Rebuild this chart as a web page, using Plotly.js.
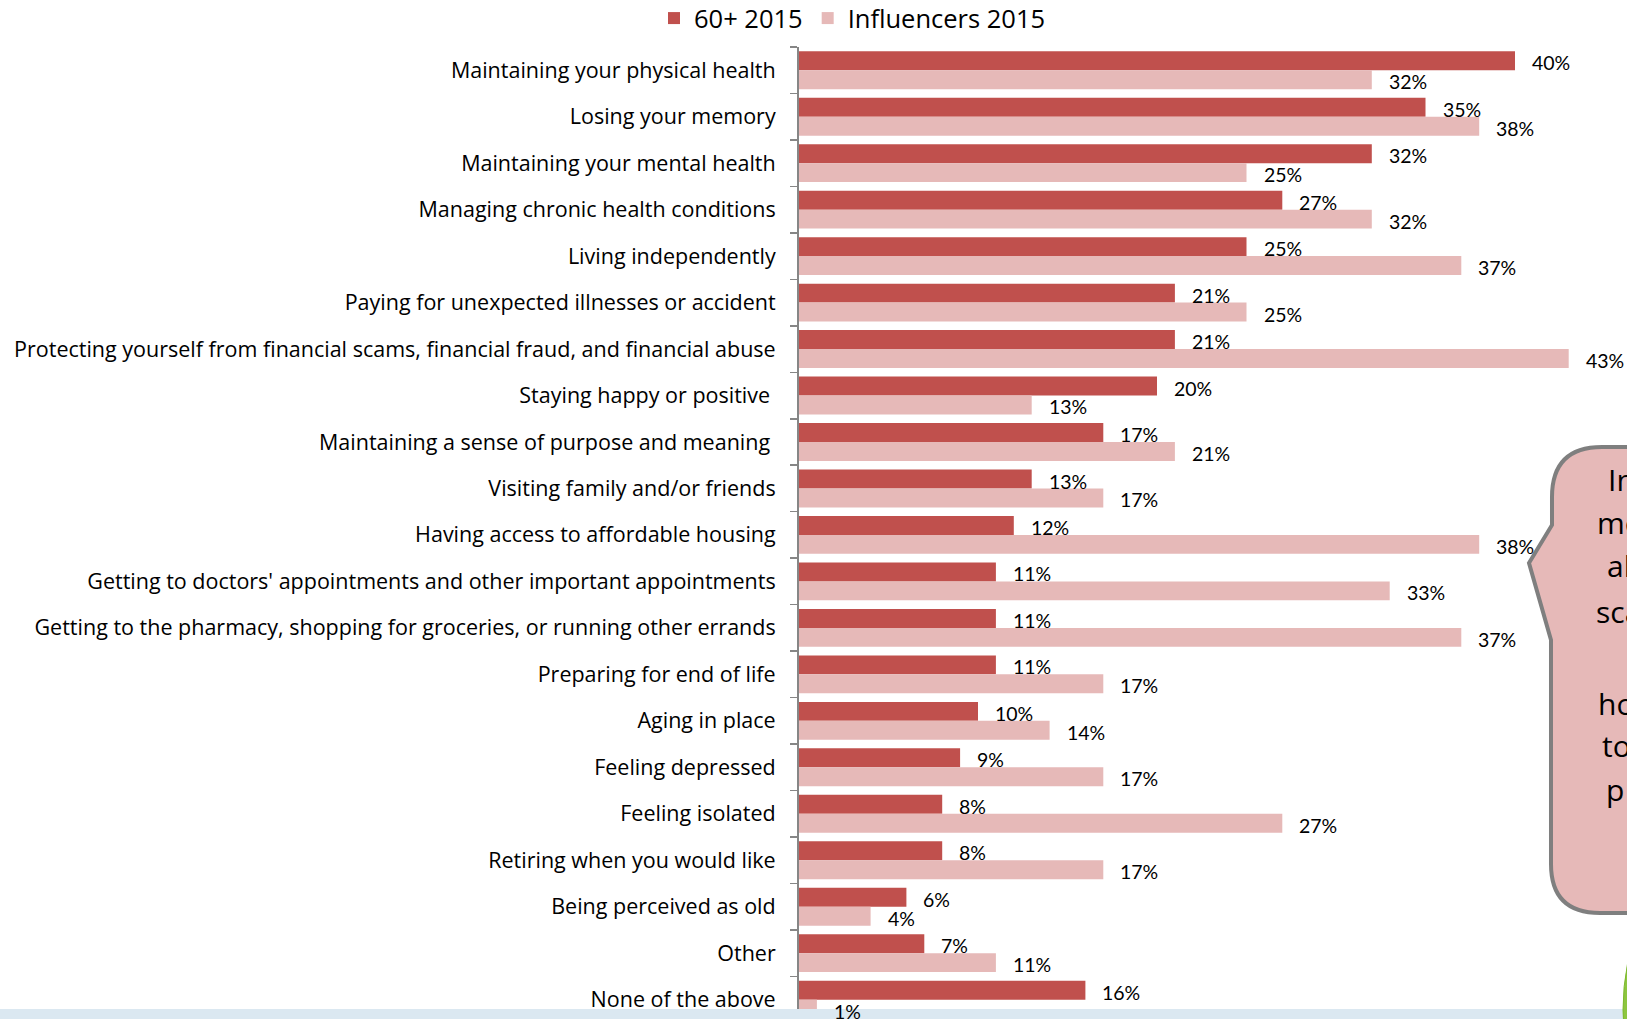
<!DOCTYPE html>
<html>
<head>
<meta charset="utf-8">
<script src="https://cdn.plot.ly/plotly-3.0.1.min.js"></script>
<style>
  html, body { margin: 0; padding: 0; background: #ffffff; }
  #chart { width: 1627px; height: 1019px; }
</style>
</head>
<body>
<div id="chart"></div>
<script>
// ---- Data ----
const categories = [
  "Maintaining your physical health",
  "Losing your memory",
  "Maintaining your mental health",
  "Managing chronic health conditions",
  "Living independently",
  "Paying for unexpected illnesses or accident",
  "Protecting yourself from financial scams, financial fraud, and financial abuse",
  "Staying happy or positive\u00a0",
  "Maintaining a sense of purpose and meaning\u00a0",
  "Visiting family and/or friends",
  "Having access to affordable housing",
  "Getting to doctors' appointments and other important appointments",
  "Getting to the pharmacy, shopping for groceries, or running other errands",
  "Preparing for end of life",
  "Aging in place",
  "Feeling depressed",
  "Feeling isolated",
  "Retiring when you would like",
  "Being perceived as old",
  "Other",
  "None of the above"
];
const seniors2015 = [40, 35, 32, 27, 25, 21, 21, 20, 17, 13, 12, 11, 11, 11, 10, 9, 8, 8, 6, 7, 16];
const influencers2015 = [32, 38, 25, 32, 37, 25, 43, 13, 21, 17, 38, 33, 37, 17, 14, 17, 27, 17, 4, 11, 1];
const seriesNames = ["60+ 2015", "Influencers 2015"];
// visible (cropped) fragments of the callout text
const calloutFragments = ["In", "mo", "al", "sca", "ho", "to", "p"];

// ---- Layout constants ----
const FIG_W = 1627, FIG_H = 1019;
const M = { l: 799, r: 0, t: 47, b: 0 };
const PW = FIG_W - M.l - M.r, PH = FIG_H - M.t - M.b;
const PX_PER_UNIT = 17.9;
const CAT_PITCH = 46.47;
const px2x = px => (px - M.l) / PW;
const py2y = py => (FIG_H - M.b - py) / PH;

const RED = "#C0504D", PINK = "#E6B9B8";
const BARGAP = 0.185;
const half = (1 - BARGAP) / 4; // center offset of each bar in a group of two
const FONT = "'Open Sans', Lato, sans-serif";

const traces = [
  { type: "bar", orientation: "h", name: seriesNames[0], y: categories, x: seniors2015,
    marker: { color: RED, line: { width: 0 } }, hoverinfo: "x+y" },
  { type: "bar", orientation: "h", name: seriesNames[1], y: categories, x: influencers2015,
    marker: { color: PINK, line: { width: 0 } }, hoverinfo: "x+y" }
];

const annotations = [];
const labelFont = { family: "Lato, 'Open Sans', sans-serif", size: 19.5, color: "#000000" };
seniors2015.forEach((v, i) => annotations.push({
  xref: "x", yref: "y", x: v, y: i - half, text: v + "%", showarrow: false,
  xanchor: "left", yanchor: "middle", xshift: 15, yshift: -2, font: labelFont
}));
influencers2015.forEach((v, i) => annotations.push({
  xref: "x", yref: "y", x: v, y: i + half, text: v + "%", showarrow: false,
  xanchor: "left", yanchor: "middle", xshift: 15, yshift: -2, font: labelFont
}));

// callout fragments (clipped by the slide edge)
const fragPos = [[1606, 479], [1595, 522], [1605, 566], [1594, 611], [1596, 703], [1600, 745], [1604, 789]];
calloutFragments.forEach((t, i) => annotations.push({
  xref: "paper", yref: "paper", x: px2x(fragPos[i][0]), y: py2y(fragPos[i][1]),
  text: t, showarrow: false, xanchor: "left", yanchor: "middle",
  font: { family: FONT, size: 30, color: "#000000" }
}));

// callout path
function P(px, py) { return px2x(px).toFixed(5) + "," + py2y(py).toFixed(5); }
const calloutPath =
  "M" + P(1551, 640) + " L" + P(1529, 563) + " L" + P(1552, 525) + " L" + P(1552, 497) +
  " Q" + P(1552, 447) + " " + P(1602, 447) + " L" + P(1720, 447) + " L" + P(1720, 913) +
  " L" + P(1600, 913) + " Q" + P(1551, 913) + " " + P(1551, 864) + " Z";

const shapes = [
  { type: "path", xref: "paper", yref: "paper", path: calloutPath,
    fillcolor: PINK, line: { color: "#7F7F7F", width: 4 }, layer: "above" },
  { type: "rect", xref: "paper", yref: "paper", x0: px2x(0), x1: px2x(FIG_W), y0: py2y(FIG_H), y1: py2y(1009),
    fillcolor: "#DBE8F1", line: { width: 0 }, layer: "above" },
  { type: "circle", xref: "paper", yref: "paper", x0: px2x(1623), x1: px2x(2103), y0: py2y(1250), y1: py2y(770),
    fillcolor: "#8DC63F", line: { color: "#7DB82F", width: 1 }, layer: "above" }
];

const layout = {
  width: FIG_W, height: FIG_H,
  margin: { l: M.l, r: M.r, t: M.t, b: M.b, pad: 0, autoexpand: false },
  paper_bgcolor: "#ffffff", plot_bgcolor: "#ffffff",
  barmode: "group", bargap: BARGAP, bargroupgap: 0,
  showlegend: true,
  legend: {
    orientation: "h", x: px2x(654), xanchor: "left", y: py2y(-5), yanchor: "top",
    font: { family: FONT, size: 25.5, color: "#000000" },
    bgcolor: "rgba(0,0,0,0)", traceorder: "normal"
  },
  xaxis: {
    range: [0, PW / PX_PER_UNIT], showgrid: false, zeroline: false, showline: false,
    showticklabels: false, ticks: "", fixedrange: true
  },
  yaxis: {
    type: "category", categoryorder: "array", categoryarray: categories,
    range: [-0.5 + PH / CAT_PITCH, -0.5], autorange: false,
    showline: true, linecolor: "#868686", linewidth: 2,
    ticks: "outside", ticklen: 7, tickwidth: 1.5, tickcolor: "#868686", tickson: "boundaries",
    ticklabelstandoff: 17,
    tickfont: { family: FONT, size: 21.5, color: "#000000" },
    showgrid: false, zeroline: false, fixedrange: true
  },
  annotations: annotations,
  shapes: shapes
};

Plotly.newPlot("chart", traces, layout, { displayModeBar: false, staticPlot: true });
</script>
</body>
</html>
